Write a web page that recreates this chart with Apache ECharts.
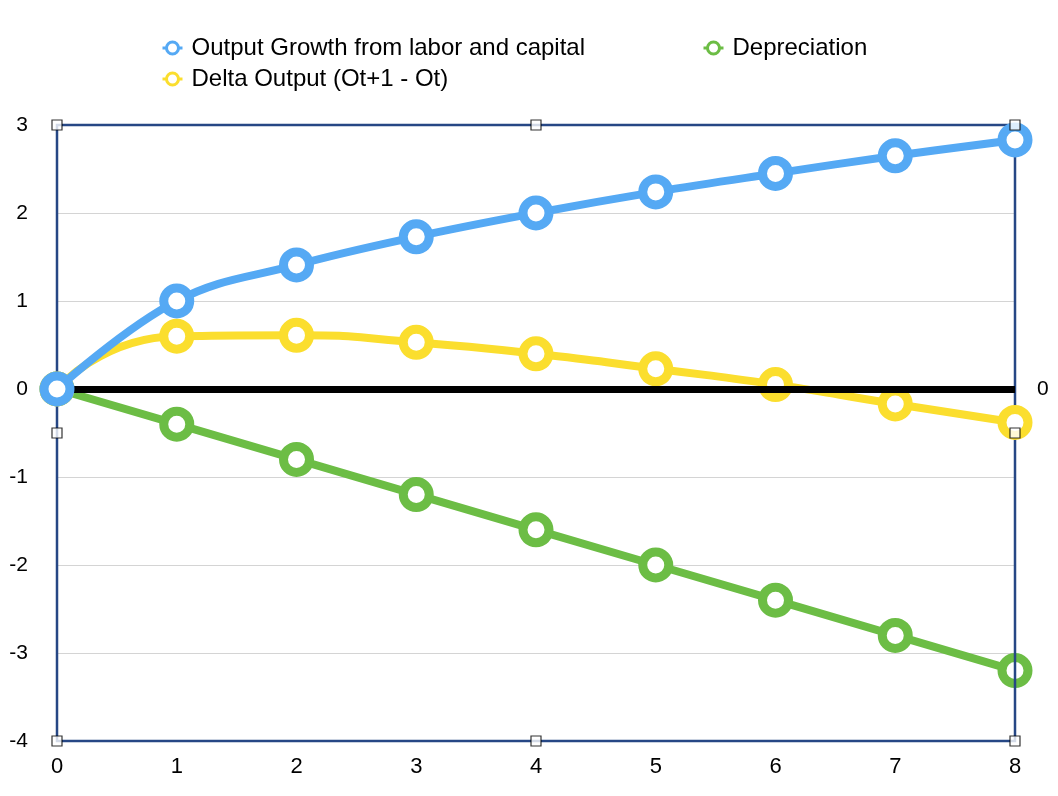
<!DOCTYPE html>
<html>
<head>
<meta charset="utf-8">
<script src="https://cdn.jsdelivr.net/npm/echarts@6/dist/echarts.min.js"></script>
<style>
html,body{margin:0;padding:0;background:#fff;}
#c{width:1058px;height:796px;}
</style>
</head>
<body>
<div id="c"></div>
<script>
const xValues = [0, 1, 2, 3, 4, 5, 6, 7, 8];
const outputGrowth = [0, 1.0, 1.41, 1.73, 2.0, 2.24, 2.45, 2.65, 2.83];
const deltaOutput = [0, 0.60, 0.61, 0.53, 0.40, 0.23, 0.05, -0.17, -0.38];
const depreciation = [0, -0.4, -0.8, -1.2, -1.6, -2.0, -2.4, -2.8, -3.2];
const seriesNames = ['Output Growth from labor and capital', 'Delta Output (Ot+1 - Ot)', 'Depreciation'];
const handlePoints = [[0, 3], [4, 3], [8, 3], [0, -0.5], [8, -0.5], [0, -4], [4, -4], [8, -4]];

const colors = ['#55A9F4', '#FBDE2E', '#6CBD45'];
const font = 'Liberation Sans, Arial, Helvetica, sans-serif';

function pairs(vals) { return xValues.map((x, i) => [x, vals[i]]); }

function lineSeries(name, vals, color, smooth, z) {
  return {
    name, type: 'line', data: pairs(vals), smooth: smooth,
    symbol: 'circle', symbolSize: 26,
    lineStyle: { color, width: 8 },
    itemStyle: { color: '#fff', borderColor: color, borderWidth: 9 },
    z: z
  };
}

const chart = echarts.init(document.getElementById('c'));
function legendAt(left, top, name) {
  return {
    left, top, data: [name],
    itemWidth: 20, itemHeight: 15,
    itemStyle: { color: '#fff', borderWidth: 3 },
    lineStyle: { width: 3 },
    textStyle: { fontFamily: font, fontSize: 24, color: '#000', padding: [0, 0, 0, 4] }
  };
}
chart.setOption({
  animation: false,
  backgroundColor: '#fff',
  legend: [
    legendAt(156, 31, seriesNames[0]),
    legendAt(156, 62, seriesNames[1]),
    legendAt(697, 31, seriesNames[2])
  ],
  grid: { left: 57, top: 125, width: 958, height: 616, show: true, borderColor: '#264785', borderWidth: 2.5, backgroundColor: 'transparent', z: 4 },
  xAxis: {
    type: 'value', min: 0, max: 8, interval: 1,
    axisLine: { show: false }, axisTick: { show: false }, splitLine: { show: false },
    axisLabel: { fontFamily: font, fontSize: 22, color: '#000', margin: 15 }
  },
  yAxis: {
    type: 'value', min: -4, max: 3, interval: 1,
    axisLine: { show: false }, axisTick: { show: false },
    splitLine: { lineStyle: { color: '#d4d4d4', width: 1 } },
    axisLabel: { fontFamily: font, fontSize: 21, color: '#000', margin: 29 }
  },
  series: [
    lineSeries(seriesNames[2], depreciation, colors[2], false, 3),
    lineSeries(seriesNames[1], deltaOutput, colors[1], 0.6, 4),
    lineSeries(seriesNames[0], outputGrowth, colors[0], 0.4, 5),
    {
      type: 'line', data: [], silent: true,
      markLine: {
        symbol: 'none', silent: true,
        lineStyle: { color: '#000', width: 7, type: 'solid' },
        label: { show: true, position: 'end', formatter: '0', fontFamily: font, fontSize: 21, color: '#000', distance: 22 },
        data: [{ yAxis: 0 }]
      },
      z: 2
    },
    {
      type: 'scatter', data: handlePoints, silent: true,
      symbol: 'rect', symbolSize: 10,
      itemStyle: { color: '#fff', borderColor: '#000', borderWidth: 1.2 },
      z: 10
    }
  ]
});
</script>
</body>
</html>
